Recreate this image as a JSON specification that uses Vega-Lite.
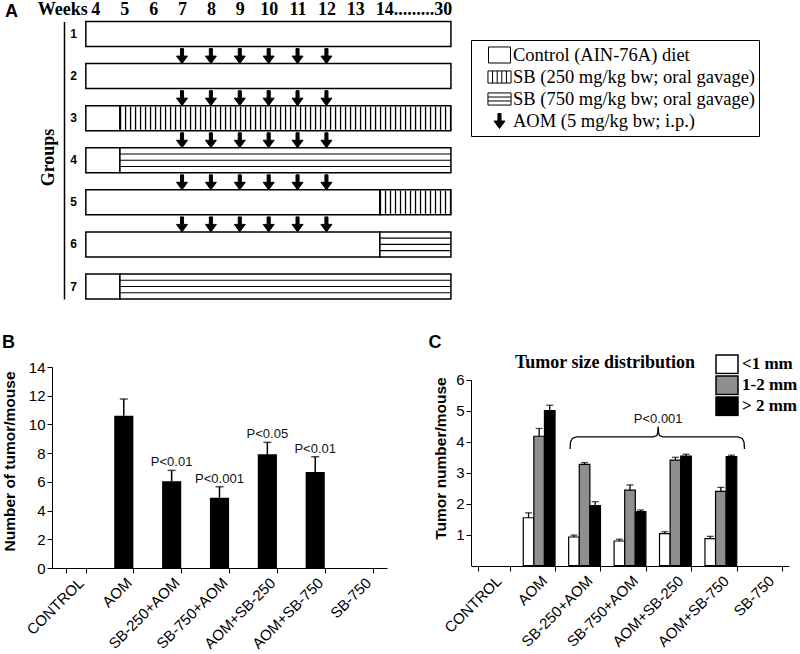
{
  "$schema": "https://vega.github.io/schema/vega-lite/v6.json",
  "width": 800,
  "height": 654,
  "autosize": {"type": "none"},
  "padding": 0,
  "background": "white",
  "config": {
    "view": {"stroke": null},
    "axis": {"domainColor": "black", "tickColor": "black", "labelColor": "black", "titleColor": "black", "grid": false, "labelFont": "Liberation Sans", "titleFont": "Liberation Sans", "domainWidth": 1, "tickWidth": 1},
    "text": {"font": "Liberation Sans"}
  },
  "datasets": {
    "segments": [
      {"group": "1", "start": 3.67, "end": 16.31, "treatment": "Control (AIN-76A) diet"},
      {"group": "2", "start": 3.67, "end": 16.31, "treatment": "Control (AIN-76A) diet"},
      {"group": "3", "start": 3.67, "end": 4.85, "treatment": "Control (AIN-76A) diet"},
      {"group": "3", "start": 4.85, "end": 16.31, "treatment": "SB (250 mg/kg bw; oral gavage)"},
      {"group": "4", "start": 3.67, "end": 4.85, "treatment": "Control (AIN-76A) diet"},
      {"group": "4", "start": 4.85, "end": 16.31, "treatment": "SB (750 mg/kg bw; oral gavage)"},
      {"group": "5", "start": 3.67, "end": 13.85, "treatment": "Control (AIN-76A) diet"},
      {"group": "5", "start": 13.85, "end": 16.31, "treatment": "SB (250 mg/kg bw; oral gavage)"},
      {"group": "6", "start": 3.67, "end": 13.85, "treatment": "Control (AIN-76A) diet"},
      {"group": "6", "start": 13.85, "end": 16.31, "treatment": "SB (750 mg/kg bw; oral gavage)"},
      {"group": "7", "start": 3.67, "end": 4.85, "treatment": "Control (AIN-76A) diet"},
      {"group": "7", "start": 4.85, "end": 16.31, "treatment": "SB (750 mg/kg bw; oral gavage)"}
    ],
    "arrows": [
      {"group": "2", "week": 7, "treatment": "AOM (5 mg/kg bw; i.p.)"},
      {"group": "2", "week": 8, "treatment": "AOM (5 mg/kg bw; i.p.)"},
      {"group": "2", "week": 9, "treatment": "AOM (5 mg/kg bw; i.p.)"},
      {"group": "2", "week": 10, "treatment": "AOM (5 mg/kg bw; i.p.)"},
      {"group": "2", "week": 11, "treatment": "AOM (5 mg/kg bw; i.p.)"},
      {"group": "2", "week": 12, "treatment": "AOM (5 mg/kg bw; i.p.)"},
      {"group": "3", "week": 7, "treatment": "AOM (5 mg/kg bw; i.p.)"},
      {"group": "3", "week": 8, "treatment": "AOM (5 mg/kg bw; i.p.)"},
      {"group": "3", "week": 9, "treatment": "AOM (5 mg/kg bw; i.p.)"},
      {"group": "3", "week": 10, "treatment": "AOM (5 mg/kg bw; i.p.)"},
      {"group": "3", "week": 11, "treatment": "AOM (5 mg/kg bw; i.p.)"},
      {"group": "3", "week": 12, "treatment": "AOM (5 mg/kg bw; i.p.)"},
      {"group": "4", "week": 7, "treatment": "AOM (5 mg/kg bw; i.p.)"},
      {"group": "4", "week": 8, "treatment": "AOM (5 mg/kg bw; i.p.)"},
      {"group": "4", "week": 9, "treatment": "AOM (5 mg/kg bw; i.p.)"},
      {"group": "4", "week": 10, "treatment": "AOM (5 mg/kg bw; i.p.)"},
      {"group": "4", "week": 11, "treatment": "AOM (5 mg/kg bw; i.p.)"},
      {"group": "4", "week": 12, "treatment": "AOM (5 mg/kg bw; i.p.)"},
      {"group": "5", "week": 7, "treatment": "AOM (5 mg/kg bw; i.p.)"},
      {"group": "5", "week": 8, "treatment": "AOM (5 mg/kg bw; i.p.)"},
      {"group": "5", "week": 9, "treatment": "AOM (5 mg/kg bw; i.p.)"},
      {"group": "5", "week": 10, "treatment": "AOM (5 mg/kg bw; i.p.)"},
      {"group": "5", "week": 11, "treatment": "AOM (5 mg/kg bw; i.p.)"},
      {"group": "5", "week": 12, "treatment": "AOM (5 mg/kg bw; i.p.)"},
      {"group": "6", "week": 7, "treatment": "AOM (5 mg/kg bw; i.p.)"},
      {"group": "6", "week": 8, "treatment": "AOM (5 mg/kg bw; i.p.)"},
      {"group": "6", "week": 9, "treatment": "AOM (5 mg/kg bw; i.p.)"},
      {"group": "6", "week": 10, "treatment": "AOM (5 mg/kg bw; i.p.)"},
      {"group": "6", "week": 11, "treatment": "AOM (5 mg/kg bw; i.p.)"},
      {"group": "6", "week": 12, "treatment": "AOM (5 mg/kg bw; i.p.)"}
    ],
    "tumor": [
      {"treatment": "AOM", "mean": 10.6, "upper": 11.77, "p": ""},
      {"treatment": "SB-250+AOM", "mean": 6.05, "upper": 6.8, "p": "P<0.01"},
      {"treatment": "SB-750+AOM", "mean": 4.9, "upper": 5.66, "p": "P<0.001"},
      {"treatment": "AOM+SB-250", "mean": 7.92, "upper": 8.75, "p": "P<0.05"},
      {"treatment": "AOM+SB-750", "mean": 6.68, "upper": 7.75, "p": "P<0.01"}
    ],
    "sizes": [
      {"treatment": "AOM", "size": "<1 mm", "mean": 1.54, "upper": 1.7},
      {"treatment": "AOM", "size": "1-2 mm", "mean": 4.17, "upper": 4.42},
      {"treatment": "AOM", "size": "> 2 mm", "mean": 5.0, "upper": 5.17},
      {"treatment": "SB-250+AOM", "size": "<1 mm", "mean": 0.92, "upper": 0.98},
      {"treatment": "SB-250+AOM", "size": "1-2 mm", "mean": 3.26, "upper": 3.32},
      {"treatment": "SB-250+AOM", "size": "> 2 mm", "mean": 1.93, "upper": 2.06},
      {"treatment": "SB-750+AOM", "size": "<1 mm", "mean": 0.79, "upper": 0.85},
      {"treatment": "SB-750+AOM", "size": "1-2 mm", "mean": 2.43, "upper": 2.6},
      {"treatment": "SB-750+AOM", "size": "> 2 mm", "mean": 1.74, "upper": 1.79},
      {"treatment": "AOM+SB-250", "size": "<1 mm", "mean": 1.03, "upper": 1.09},
      {"treatment": "AOM+SB-250", "size": "1-2 mm", "mean": 3.4, "upper": 3.49},
      {"treatment": "AOM+SB-250", "size": "> 2 mm", "mean": 3.53, "upper": 3.59},
      {"treatment": "AOM+SB-750", "size": "<1 mm", "mean": 0.87, "upper": 0.94},
      {"treatment": "AOM+SB-750", "size": "1-2 mm", "mean": 2.39, "upper": 2.52},
      {"treatment": "AOM+SB-750", "size": "> 2 mm", "mean": 3.51, "upper": 3.56}
    ],
    "bracket": [
      {"i": 1, "pos": 2.18, "y": 3.76},
      {"i": 2, "pos": 2.19, "y": 3.98},
      {"i": 3, "pos": 2.23, "y": 4.1},
      {"i": 4, "pos": 2.32, "y": 4.15},
      {"i": 5, "pos": 4.02, "y": 4.15},
      {"i": 6, "pos": 4.09, "y": 4.19},
      {"i": 7, "pos": 4.11, "y": 4.28},
      {"i": 8, "pos": 4.12, "y": 4.48},
      {"i": 9, "pos": 4.13, "y": 4.28},
      {"i": 10, "pos": 4.15, "y": 4.19},
      {"i": 11, "pos": 4.22, "y": 4.15},
      {"i": 12, "pos": 5.88, "y": 4.15},
      {"i": 13, "pos": 5.97, "y": 4.1},
      {"i": 14, "pos": 6.01, "y": 3.98},
      {"i": 15, "pos": 6.02, "y": 3.76}
    ],
    "pnote": [
      {"pos": 4.12, "y": 4.48, "label": "P<0.001"}
    ]
  },
  "layer": [
    {
      "data": {"name": "segments"},
      "layer": [
        {
          "mark": {"type": "rect", "fill": "white", "stroke": "black", "strokeWidth": 1.5},
          "encoding": {
            "x": {
              "field": "start", "type": "quantitative",
              "scale": {"domain": [2.8, 14], "range": [60.7, 384.2], "nice": false, "zero": false},
              "axis": {
                "orient": "top", "offset": -20, "format": "d",
                "values": [2.85, 4, 5, 6, 7, 8, 9, 10, 11, 12, 13, 14],
                "labelExpr": "datum.value < 3.5 ? 'Weeks' : datum.value == 14 ? '14.........30' : datum.label",
                "labelAlign": {"condition": {"test": "datum.value == 14", "value": "left"}, "value": "center"},
                "labelOffset": {"condition": {"test": "datum.value == 14", "value": -9}, "value": 0},
                "labelFont": "Liberation Serif", "labelFontWeight": "bold", "labelFontSize": 18,
                "labelPadding": 1.5, "labelFlush": false, "labelOverlap": false, "labelBound": false,
                "domain": false, "ticks": false, "tickSize": 0,
                "title": "A", "titleFont": "Liberation Sans", "titleFontSize": 18, "titleFontWeight": "bold",
                "titleX": 11, "titleY": -4, "titleAlign": "center", "titleBaseline": "alphabetic", "titleAngle": 0
              }
            },
            "x2": {"field": "end"},
            "y": {
              "field": "group", "type": "nominal",
              "scale": {"domain": ["1", "2", "3", "4", "5", "6", "7"], "range": [21.5, 299], "paddingInner": 0.406, "paddingOuter": 0},
              "axis": {
                "orient": "left", "offset": -64, "domainWidth": 1.5,
                "ticks": false, "tickSize": 0,
                "labelFont": "Liberation Sans", "labelFontWeight": "bold", "labelFontSize": 12,
                "labelAlign": "center", "labelPadding": -9, "labelBaseline": "middle",
                "title": "Groups", "titleFont": "Liberation Serif", "titleFontSize": 18, "titleFontWeight": "bold",
                "titleAngle": -90, "titleX": -16, "titleY": 157, "titleBaseline": "middle", "titleAlign": "center"
              }
            }
          }
        },
        {
          "transform": [{"filter": "datum.treatment == 'SB (250 mg/kg bw; oral gavage)'"}],
          "mark": {"type": "rule", "strokeWidth": 23, "strokeDash": [1.3, 3.7], "color": "black"},
          "encoding": {
            "x": {"field": "start", "type": "quantitative"},
            "x2": {"field": "end"},
            "y": {"field": "group", "type": "nominal"}
          }
        },
        {
          "transform": [{"filter": "datum.treatment == 'SB (750 mg/kg bw; oral gavage)'"}],
          "mark": {"type": "rule", "strokeWidth": 1.2, "color": "black", "yOffset": -6.25},
          "encoding": {
            "x": {"field": "start", "type": "quantitative"},
            "x2": {"field": "end"},
            "y": {"field": "group", "type": "nominal"}
          }
        },
        {
          "transform": [{"filter": "datum.treatment == 'SB (750 mg/kg bw; oral gavage)'"}],
          "mark": {"type": "rule", "strokeWidth": 1.2, "color": "black"},
          "encoding": {
            "x": {"field": "start", "type": "quantitative"},
            "x2": {"field": "end"},
            "y": {"field": "group", "type": "nominal"}
          }
        },
        {
          "transform": [{"filter": "datum.treatment == 'SB (750 mg/kg bw; oral gavage)'"}],
          "mark": {"type": "rule", "strokeWidth": 1.2, "color": "black", "yOffset": 6.25},
          "encoding": {
            "x": {"field": "start", "type": "quantitative"},
            "x2": {"field": "end"},
            "y": {"field": "group", "type": "nominal"}
          }
        },
        {
          "data": {"name": "arrows"},
          "mark": {"type": "point", "size": 484, "strokeWidth": 1, "opacity": 1, "yOffset": -20},
          "encoding": {
            "x": {"field": "week", "type": "quantitative"},
            "y": {"field": "group", "type": "nominal"},
            "shape": {
              "field": "treatment", "type": "nominal",
              "scale": {
                "domain": ["Control (AIN-76A) diet", "SB (250 mg/kg bw; oral gavage)", "SB (750 mg/kg bw; oral gavage)", "AOM (5 mg/kg bw; i.p.)"],
                "range": [
                  "M-1,-0.73H1V0.73H-1Z",
                  "M-1.05,-0.55H1.05V0.55H-1.05Z M-0.63,-0.55V0.55 M-0.21,-0.55V0.55 M0.21,-0.55V0.55 M0.63,-0.55V0.55",
                  "M-1.05,-0.55H1.05V0.55H-1.05Z M-1.05,-0.18H1.05 M-1.05,0.18H1.05",
                  "M-0.14,-0.68H0.14V0H0.5L0,0.68L-0.5,0H-0.14Z"
                ]
              },
              "legend": {
                "orient": "none", "legendX": 471, "legendY": 40, "title": null,
                "padding": 4, "strokeColor": "black", "fillColor": "white",
                "labelFont": "Liberation Serif", "labelFontSize": 18.5, "labelColor": "black", "labelLimit": 400,
                "symbolSize": 484, "symbolStrokeColor": "black", "symbolStrokeWidth": 1, "symbolOpacity": 1,
                "symbolOffset": 13, "labelOffset": 2, "clipHeight": 22, "rowPadding": 0
              }
            },
            "fill": {
              "field": "treatment", "type": "nominal",
              "scale": {
                "domain": ["Control (AIN-76A) diet", "SB (250 mg/kg bw; oral gavage)", "SB (750 mg/kg bw; oral gavage)", "AOM (5 mg/kg bw; i.p.)"],
                "range": ["white", "white", "white", "black"]
              },
              "legend": {
                "orient": "none", "legendX": 471, "legendY": 40, "title": null,
                "padding": 4, "strokeColor": "black", "fillColor": "white",
                "labelFont": "Liberation Serif", "labelFontSize": 18.5, "labelColor": "black", "labelLimit": 400,
                "symbolSize": 484, "symbolStrokeColor": "black", "symbolStrokeWidth": 1, "symbolOpacity": 1,
                "symbolOffset": 13, "labelOffset": 2, "clipHeight": 22, "rowPadding": 0
              }
            },
            "stroke": {
              "field": "treatment", "type": "nominal",
              "scale": {
                "domain": ["Control (AIN-76A) diet", "SB (250 mg/kg bw; oral gavage)", "SB (750 mg/kg bw; oral gavage)", "AOM (5 mg/kg bw; i.p.)"],
                "range": ["black", "black", "black", "black"]
              },
              "legend": {
                "orient": "none", "legendX": 471, "legendY": 40, "title": null,
                "padding": 4, "strokeColor": "black", "fillColor": "white",
                "labelFont": "Liberation Serif", "labelFontSize": 18.5, "labelColor": "black", "labelLimit": 400,
                "symbolSize": 484, "symbolStrokeColor": "black", "symbolStrokeWidth": 1, "symbolOpacity": 1,
                "symbolOffset": 13, "labelOffset": 2, "clipHeight": 22, "rowPadding": 0
              }
            }
          }
        }
      ]
    },
    {
      "data": {"name": "tumor"},
      "layer": [
        {
          "mark": {"type": "bar", "color": "black"},
          "encoding": {
            "x": {
              "field": "treatment", "type": "nominal",
              "scale": {"domain": ["CONTROL", "AOM", "SB-250+AOM", "SB-750+AOM", "AOM+SB-250", "AOM+SB-750", "SB-750"], "range": [52, 387], "paddingInner": 0.6, "paddingOuter": 0.3},
              "axis": {
                "orient": "bottom", "offset": -86, "tickBand": "extent", "tickSize": 5,
                "labelAngle": -45, "labelFontSize": 15, "labelPadding": 2,
                "title": "B", "titleFontSize": 18, "titleFontWeight": "bold",
                "titleX": 8, "titleY": -221, "titleAlign": "center", "titleBaseline": "alphabetic", "titleAngle": 0
              }
            },
            "y": {
              "field": "mean", "type": "quantitative",
              "scale": {"domain": [0, 14], "range": [568, 367], "nice": false, "zero": false},
              "axis": {
                "orient": "left", "offset": -52, "values": [0, 2, 4, 6, 8, 10, 12, 14], "format": "d",
                "tickSize": 5, "labelFontSize": 15, "labelPadding": 2,
                "title": "Number of tumor/mouse", "titleFontSize": 15.5, "titleFontWeight": "bold",
                "titleX": -43, "titleY": 461, "titleAngle": -90, "titleAlign": "center", "titleBaseline": "middle"
              }
            }
          }
        },
        {
          "mark": {"type": "rule", "color": "black", "strokeWidth": 1.5},
          "encoding": {
            "x": {"field": "treatment", "type": "nominal"},
            "y": {"field": "mean", "type": "quantitative"},
            "y2": {"field": "upper"}
          }
        },
        {
          "mark": {"type": "tick", "color": "black", "thickness": 1.5, "size": 8, "orient": "horizontal"},
          "encoding": {
            "x": {"field": "treatment", "type": "nominal"},
            "y": {"field": "upper", "type": "quantitative"}
          }
        },
        {
          "transform": [{"filter": "datum.p != ''"}],
          "mark": {"type": "text", "dy": -4, "baseline": "alphabetic", "fontSize": 13, "color": "#111"},
          "encoding": {
            "x": {"field": "treatment", "type": "nominal"},
            "y": {"field": "upper", "type": "quantitative"},
            "text": {"field": "p"}
          }
        }
      ]
    },
    {
      "data": {"name": "sizes"},
      "layer": [
        {
          "mark": {"type": "bar", "stroke": "black", "strokeWidth": 1.2},
          "encoding": {
            "x": {
              "field": "treatment", "type": "nominal",
              "scale": {"domain": ["CONTROL", "AOM", "SB-250+AOM", "SB-750+AOM", "AOM+SB-250", "AOM+SB-750", "SB-750"], "range": [471, 789], "paddingInner": 0.3, "paddingOuter": 0.15},
              "axis": {
                "orient": "bottom", "offset": -88, "tickBand": "extent", "tickSize": 5,
                "labelAngle": -45, "labelFontSize": 15, "labelPadding": 2,
                "title": "C", "titleFontSize": 18, "titleFontWeight": "bold",
                "titleX": 434.5, "titleY": -219, "titleAlign": "center", "titleBaseline": "alphabetic", "titleAngle": 0
              }
            },
            "xOffset": {"field": "size", "type": "nominal", "scale": {"domain": ["<1 mm", "1-2 mm", "> 2 mm"], "paddingInner": 0, "paddingOuter": 0}},
            "y": {
              "field": "mean", "type": "quantitative",
              "scale": {"domain": [0, 6], "range": [565.5, 379.5], "nice": false, "zero": false},
              "axis": {
                "orient": "left", "offset": -471, "values": [1, 2, 3, 4, 5, 6], "format": "d",
                "tickSize": 5, "labelFontSize": 15, "labelPadding": 2,
                "title": "Tumor number/mouse", "titleFontSize": 15.5, "titleFontWeight": "bold",
                "titleX": -31, "titleY": 458, "titleAngle": -90, "titleAlign": "center", "titleBaseline": "middle"
              }
            },
            "fill": {
              "field": "size", "type": "nominal",
              "scale": {"domain": ["<1 mm", "1-2 mm", "> 2 mm"], "range": ["white", "#8f8f8f", "black"]},
              "legend": {
                "orient": "none", "legendX": 515, "legendY": 354,
                "title": "Tumor size distribution", "titleOrient": "left",
                "titleFont": "Liberation Serif", "titleFontSize": 18, "titleFontWeight": "bold", "titleColor": "black",
                "titlePadding": 19, "titleAnchor": "start", "titleBaseline": "top", "titleLimit": 400,
                "labelFont": "Liberation Serif", "labelFontSize": 17, "labelFontWeight": "bold", "labelColor": "black", "labelOffset": 3,
                "symbolType": "M-1,-0.85H1V0.85H-1Z", "symbolSize": 484, "symbolStrokeColor": "black", "symbolStrokeWidth": 1.5, "symbolOpacity": 1,
                "clipHeight": 20.5, "rowPadding": 0, "padding": 0
              }
            }
          }
        },
        {
          "mark": {"type": "rule", "color": "black", "strokeWidth": 1.3},
          "encoding": {
            "x": {"field": "treatment", "type": "nominal"},
            "xOffset": {"field": "size", "type": "nominal"},
            "y": {"field": "mean", "type": "quantitative"},
            "y2": {"field": "upper"}
          }
        },
        {
          "mark": {"type": "tick", "color": "black", "thickness": 1.3, "size": 7, "orient": "horizontal"},
          "encoding": {
            "x": {"field": "treatment", "type": "nominal"},
            "xOffset": {"field": "size", "type": "nominal"},
            "y": {"field": "upper", "type": "quantitative"}
          }
        }
      ]
    },
    {
      "layer": [
        {
          "data": {"name": "bracket"},
          "mark": {"type": "line", "color": "black", "strokeWidth": 1.3},
          "encoding": {
            "x": {"field": "pos", "type": "quantitative", "scale": {"domain": [0, 7], "range": [471, 789], "nice": false, "zero": false}, "axis": null},
            "y": {"field": "y", "type": "quantitative", "scale": {"domain": [0, 6], "range": [565.5, 379.5], "nice": false, "zero": false}, "axis": null},
            "order": {"field": "i", "type": "quantitative"}
          }
        },
        {
          "data": {"name": "pnote"},
          "mark": {"type": "text", "dy": -4, "baseline": "alphabetic", "fontSize": 13, "color": "#111"},
          "encoding": {
            "x": {"field": "pos", "type": "quantitative"},
            "y": {"field": "y", "type": "quantitative"},
            "text": {"field": "label"}
          }
        }
      ]
    }
  ],
  "resolve": {
    "scale": {"x": "independent", "y": "independent", "fill": "independent", "shape": "independent", "stroke": "independent", "xOffset": "independent"},
    "axis": {"x": "independent", "y": "independent"},
    "legend": {"fill": "independent", "shape": "independent", "stroke": "independent"}
  }
}
